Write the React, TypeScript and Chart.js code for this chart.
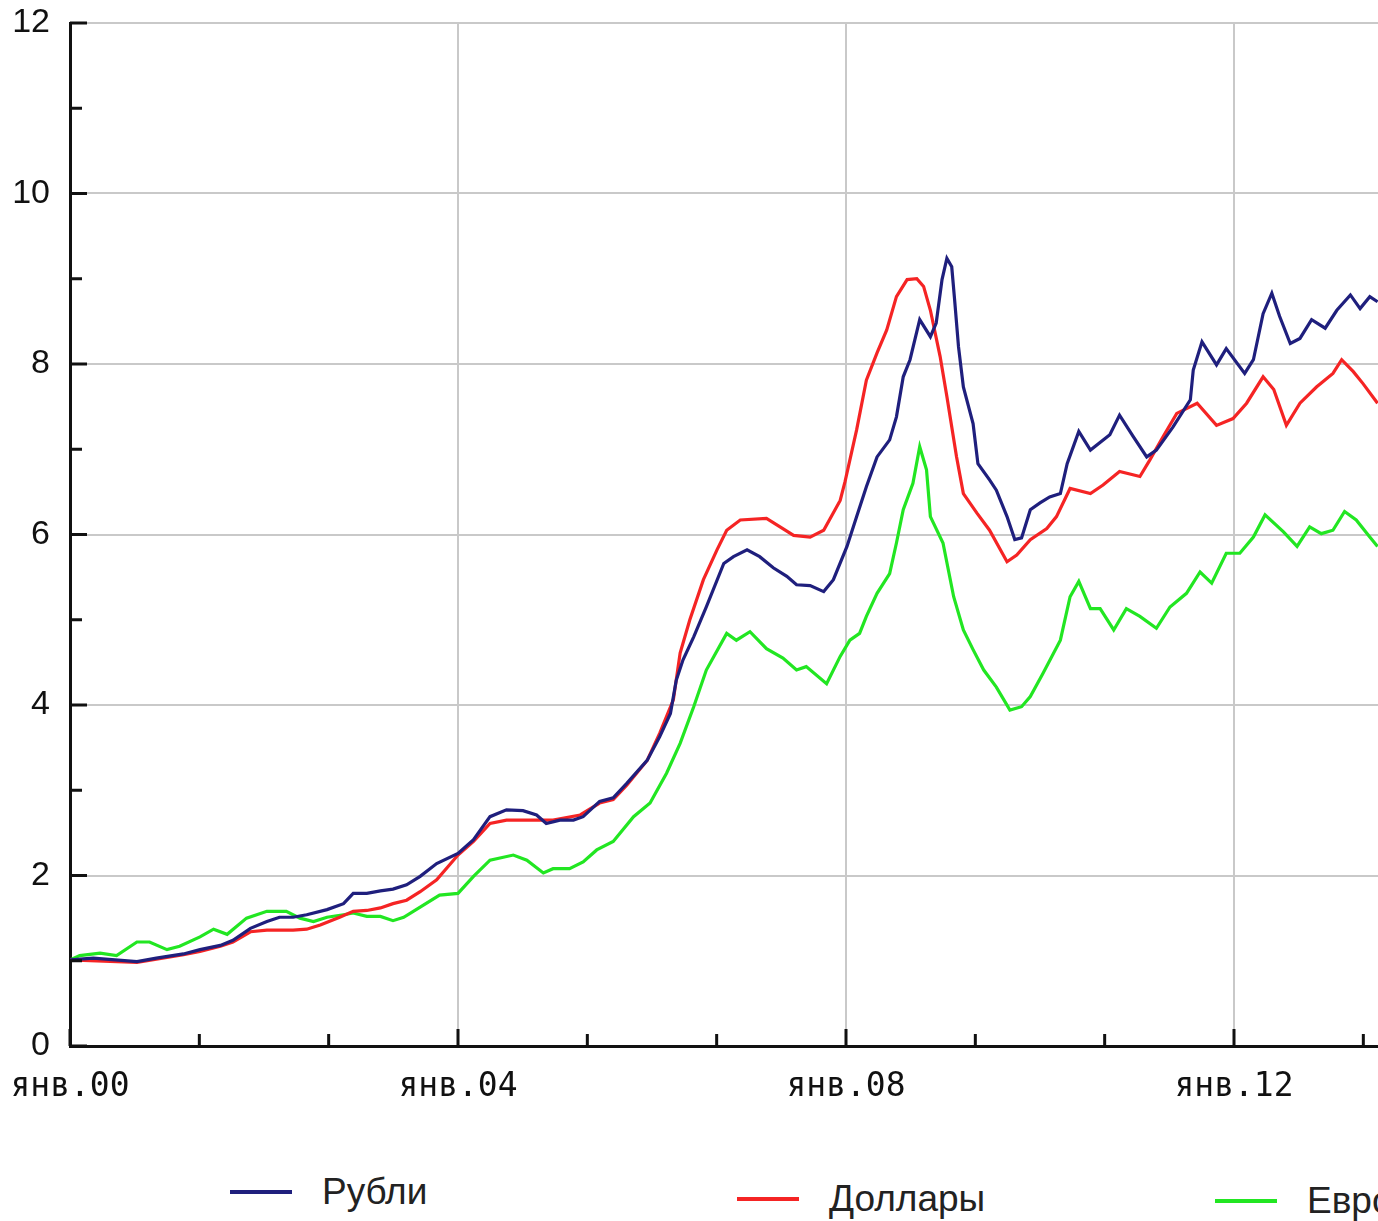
import React, { useEffect, useRef } from "react";
import { Chart, registerables } from "chart.js";

Chart.register(...registerables);

// Time in years since January 2000
const rubliTimes = [0, 0.24, 0.69, 0.89, 1.17, 1.34, 1.55, 1.68, 1.86, 2.03, 2.16, 2.3, 2.44, 2.65, 2.82, 2.92, 3.06, 3.2, 3.33, 3.47, 3.61, 3.78, 4.0, 4.16, 4.33, 4.5, 4.67, 4.81, 4.91, 5.05, 5.19, 5.29, 5.46, 5.6, 5.74, 5.95, 6.08, 6.19, 6.25, 6.32, 6.43, 6.56, 6.74, 6.84, 6.98, 7.11, 7.25, 7.39, 7.49, 7.63, 7.77, 7.87, 8.01, 8.11, 8.21, 8.32, 8.45, 8.52, 8.59, 8.66, 8.76, 8.87, 8.93, 8.99, 9.04, 9.09, 9.12, 9.16, 9.21, 9.31, 9.36, 9.48, 9.55, 9.66, 9.74, 9.81, 9.9, 10.0, 10.1, 10.21, 10.28, 10.4, 10.52, 10.72, 10.82, 10.96, 11.1, 11.2, 11.37, 11.55, 11.58, 11.67, 11.82, 11.92, 12.11, 12.2, 12.3, 12.39, 12.47, 12.58, 12.68, 12.8, 12.94, 13.06, 13.2, 13.3, 13.4, 13.48];
const rubliValues = [1.01, 1.03, 0.99, 1.03, 1.08, 1.13, 1.18, 1.24, 1.38, 1.46, 1.51, 1.51, 1.54, 1.6, 1.67, 1.79, 1.79, 1.82, 1.84, 1.89, 1.99, 2.14, 2.26, 2.42, 2.69, 2.77, 2.76, 2.71, 2.61, 2.65, 2.65, 2.69, 2.87, 2.91, 3.08, 3.35, 3.63, 3.9, 4.29, 4.53, 4.8, 5.15, 5.66, 5.74, 5.82, 5.74, 5.61, 5.51, 5.41, 5.4, 5.33, 5.47, 5.86, 6.21, 6.56, 6.91, 7.11, 7.38, 7.85, 8.05, 8.52, 8.32, 8.48, 8.99, 9.24, 9.14, 8.75, 8.2, 7.73, 7.3, 6.83, 6.64, 6.52, 6.21, 5.94, 5.96, 6.29, 6.37, 6.44, 6.48, 6.83, 7.21, 6.99, 7.17, 7.4, 7.15, 6.91, 6.99, 7.26, 7.58, 7.93, 8.26, 7.99, 8.18, 7.89, 8.05, 8.59, 8.83, 8.56, 8.24, 8.3, 8.52, 8.42, 8.63, 8.81, 8.65, 8.79, 8.73];

const dollarTimes = [0, 0.69, 1.17, 1.34, 1.55, 1.68, 1.86, 2.03, 2.3, 2.44, 2.58, 2.78, 2.92, 3.06, 3.2, 3.33, 3.47, 3.61, 3.78, 4.0, 4.16, 4.33, 4.5, 4.85, 4.98, 5.26, 5.46, 5.6, 5.74, 5.95, 6.08, 6.22, 6.29, 6.39, 6.53, 6.67, 6.77, 6.91, 7.18, 7.32, 7.46, 7.63, 7.77, 7.94, 7.99, 8.11, 8.21, 8.32, 8.42, 8.52, 8.63, 8.73, 8.8, 8.87, 8.97, 9.04, 9.14, 9.21, 9.35, 9.48, 9.66, 9.76, 9.9, 10.07, 10.17, 10.31, 10.52, 10.65, 10.82, 11.03, 11.13, 11.27, 11.41, 11.62, 11.82, 11.99, 12.13, 12.3, 12.41, 12.54, 12.68, 12.85, 13.02, 13.11, 13.23, 13.33, 13.48];
const dollarValues = [1.01, 0.98, 1.07, 1.11, 1.17, 1.22, 1.34, 1.36, 1.36, 1.37, 1.42, 1.51, 1.58, 1.59, 1.62, 1.67, 1.71, 1.81, 1.95, 2.24, 2.4, 2.61, 2.65, 2.65, 2.65, 2.71, 2.85, 2.89, 3.06, 3.35, 3.67, 4.06, 4.61, 5.0, 5.47, 5.82, 6.05, 6.17, 6.19, 6.09, 5.99, 5.97, 6.05, 6.4, 6.62, 7.23, 7.81, 8.13, 8.4, 8.79, 8.99, 9.0, 8.91, 8.63, 8.09, 7.62, 6.91, 6.48, 6.25, 6.05, 5.68, 5.76, 5.94, 6.07, 6.21, 6.54, 6.48, 6.58, 6.74, 6.68, 6.87, 7.15, 7.42, 7.54, 7.28, 7.36, 7.54, 7.85, 7.7, 7.28, 7.54, 7.73, 7.89, 8.05, 7.91, 7.77, 7.54];

const euroTimes = [0, 0.1, 0.31, 0.48, 0.69, 0.82, 1.0, 1.13, 1.34, 1.48, 1.62, 1.82, 2.03, 2.23, 2.37, 2.51, 2.65, 2.82, 2.92, 3.06, 3.2, 3.33, 3.44, 3.61, 3.81, 4.0, 4.16, 4.33, 4.57, 4.71, 4.88, 4.98, 5.15, 5.29, 5.43, 5.6, 5.81, 5.98, 6.15, 6.29, 6.43, 6.56, 6.77, 6.87, 7.01, 7.18, 7.35, 7.49, 7.59, 7.8, 7.94, 8.04, 8.14, 8.21, 8.32, 8.45, 8.52, 8.59, 8.69, 8.76, 8.83, 8.87, 9.0, 9.11, 9.21, 9.31, 9.42, 9.55, 9.69, 9.81, 9.9, 10.03, 10.21, 10.31, 10.4, 10.52, 10.62, 10.76, 10.89, 11.03, 11.2, 11.34, 11.51, 11.65, 11.77, 11.92, 12.06, 12.2, 12.32, 12.51, 12.65, 12.78, 12.9, 13.02, 13.14, 13.26, 13.4, 13.48];
const euroValues = [1.01, 1.06, 1.09, 1.06, 1.22, 1.22, 1.13, 1.17, 1.28, 1.37, 1.31, 1.5, 1.58, 1.58, 1.5, 1.46, 1.51, 1.54, 1.56, 1.52, 1.52, 1.47, 1.51, 1.63, 1.77, 1.79, 1.99, 2.18, 2.24, 2.18, 2.03, 2.08, 2.08, 2.16, 2.3, 2.4, 2.69, 2.85, 3.2, 3.55, 3.98, 4.41, 4.84, 4.76, 4.86, 4.66, 4.55, 4.41, 4.45, 4.25, 4.57, 4.76, 4.84, 5.04, 5.31, 5.54, 5.9, 6.29, 6.6, 7.03, 6.76, 6.21, 5.9, 5.27, 4.88, 4.65, 4.41, 4.21, 3.94, 3.98, 4.1, 4.37, 4.76, 5.27, 5.45, 5.13, 5.13, 4.88, 5.13, 5.04, 4.9, 5.15, 5.31, 5.56, 5.43, 5.78, 5.78, 5.97, 6.23, 6.03, 5.86, 6.09, 6.01, 6.05, 6.27, 6.17, 5.97, 5.86];

const seriesNames = ["Рубли", "Доллары", "Евро"];
const seriesColors = ["#1f1f7d", "#f52424", "#22e622"];
const xMajorLabels = ["янв.00", "янв.04", "янв.08", "янв.12"];
const xTickValues = [0, 4 / 3, 8 / 3, 4, 16 / 3, 20 / 3, 8, 28 / 3, 32 / 3, 12, 40 / 3];
const yTickValues = [0, 1, 2, 3, 4, 5, 6, 7, 8, 9, 10, 11, 12];

const legendPlacement = [
  { left: 230, center: 1192 },
  { left: 737, center: 1199 },
  { left: 1215, center: 1201 },
];

const inwardTicks = {
  id: "inwardTicks",
  afterDatasetsDraw(chart: any) {
    const { ctx, chartArea, scales } = chart;
    const xs = scales.x;
    const ys = scales.y;
    ctx.save();
    ctx.strokeStyle = "#111";
    ctx.lineWidth = 3;
    ctx.beginPath();
    ys.ticks.forEach((t: any, i: number) => {
      const py = ys.getPixelForValue(t.value);
      const len = i % 2 === 0 ? 17 : 12;
      ctx.moveTo(chartArea.left, py);
      ctx.lineTo(chartArea.left + len, py);
    });
    xs.ticks.forEach((t: any, i: number) => {
      const px = xs.getPixelForValue(t.value);
      const len = i % 3 === 0 ? 17 : 12;
      ctx.moveTo(px, chartArea.bottom);
      ctx.lineTo(px, chartArea.bottom - len);
    });
    ctx.stroke();
    ctx.restore();
  },
};

const zeroPad = (scale: any) => {
  scale.paddingLeft = 0;
  scale.paddingRight = 0;
  scale.paddingTop = 0;
  scale.paddingBottom = 0;
};

export default function App() {
  const canvasRef = useRef<HTMLCanvasElement | null>(null);

  useEffect(() => {
    if (!canvasRef.current) return;
    const mk = (times: number[], values: number[]) => times.map((t, i) => ({ x: t, y: values[i] }));
    const chart = new Chart(canvasRef.current, {
      type: "line",
      data: {
        datasets: [
          { label: seriesNames[0], data: mk(rubliTimes, rubliValues), borderColor: seriesColors[0], borderWidth: 3.2, pointRadius: 0, tension: 0, fill: false },
          { label: seriesNames[1], data: mk(dollarTimes, dollarValues), borderColor: seriesColors[1], borderWidth: 3.2, pointRadius: 0, tension: 0, fill: false },
          { label: seriesNames[2], data: mk(euroTimes, euroValues), borderColor: seriesColors[2], borderWidth: 3.2, pointRadius: 0, tension: 0, fill: false },
        ],
      },
      options: {
        animation: false,
        responsive: false,
        devicePixelRatio: 1,
        layout: { padding: { top: 23, right: 10, left: 0, bottom: 0 } },
        plugins: { legend: { display: false }, tooltip: { enabled: false } },
        scales: {
          x: {
            type: "linear",
            min: 0,
            max: 14,
            afterBuildTicks: (scale: any) => {
              scale.ticks = xTickValues.map((v) => ({ value: v }));
            },
            afterFit: (scale: any) => {
              scale.height = 94;
              zeroPad(scale);
            },
            ticks: {
              autoSkip: false,
              maxRotation: 0,
              padding: 22,
              color: "#111",
              font: { family: "'DejaVu Sans Mono', monospace", size: 33 },
              callback: (_v: any, index: number) => (index % 3 === 0 ? xMajorLabels[index / 3] ?? "" : ""),
            },
            grid: {
              drawTicks: false,
              lineWidth: 2,
              color: (c: any) => (c.index % 3 === 0 && c.index !== 0 ? "#c9c9c9" : "rgba(0,0,0,0)"),
            },
            border: { display: true, color: "#111", width: 3 },
          },
          y: {
            min: 0,
            max: 12,
            afterBuildTicks: (scale: any) => {
              scale.ticks = yTickValues.map((v) => ({ value: v }));
            },
            afterFit: (scale: any) => {
              scale.width = 70;
              zeroPad(scale);
            },
            ticks: {
              autoSkip: false,
              padding: 20,
              color: "#111",
              font: { family: "'Liberation Sans', Arial, sans-serif", size: 34 },
              callback: (v: any) => (Number(v) % 2 === 0 ? String(v) : ""),
            },
            grid: {
              drawTicks: false,
              lineWidth: 2,
              color: (c: any) => (c.tick && c.tick.value % 2 === 0 && c.tick.value !== 0 ? "#c9c9c9" : "rgba(0,0,0,0)"),
            },
            border: { display: true, color: "#111", width: 3 },
          },
        },
      } as any,
      plugins: [inwardTicks],
    });
    return () => chart.destroy();
  }, []);

  return (
    <div style={{ position: "fixed", left: 0, top: 0, width: 1378, height: 1221, overflow: "hidden", background: "#fff" }}>
      <canvas ref={canvasRef} width={1438} height={1140} style={{ display: "block", width: 1438, height: 1140 }} />
      {seriesNames.map((name, i) => (
        <div
          key={name}
          style={{
            position: "absolute",
            left: legendPlacement[i].left,
            top: legendPlacement[i].center - 25,
            height: 50,
            display: "flex",
            alignItems: "center",
            whiteSpace: "nowrap",
          }}
        >
          <div style={{ width: 62, height: 4, background: seriesColors[i], marginRight: 30 }} />
          <span style={{ fontFamily: "'Liberation Sans', Arial, sans-serif", fontSize: 37, color: "#222", lineHeight: "50px" }}>{name}</span>
        </div>
      ))}
    </div>
  );
}
